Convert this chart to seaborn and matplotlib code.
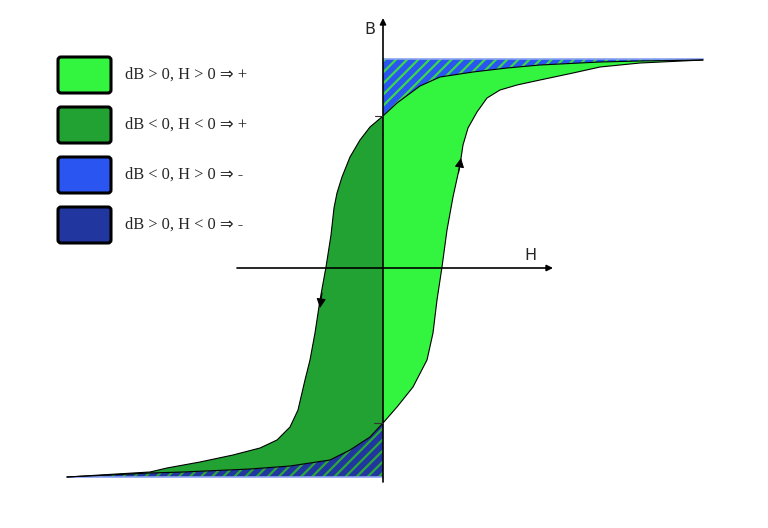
import numpy as np
import matplotlib
matplotlib.use('Agg')
import matplotlib.pyplot as plt
import seaborn as sns
from matplotlib.patches import FancyBboxPatch

# hysteresis loop (arbitrary units)
# descending branch (dB < 0): positive saturation -> negative saturation
desc_h = np.array([3.20, 2.57, 2.17, 1.57, 1.24, 0.90, 0.57, 0.37, 0.14, 0.00, -0.13,
                   -0.23, -0.33, -0.41, -0.46, -0.49, -0.52, -0.57, -0.63, -0.68, -0.73,
                   -0.78, -0.85, -0.93, -1.06, -1.23, -1.50, -1.83, -2.16, -2.33, -3.16])
desc_b = np.array([2.08, 2.07, 2.06, 2.03, 2.00, 1.96, 1.91, 1.82, 1.65, 1.52, 1.41,
                   1.28, 1.11, 0.91, 0.75, 0.60, 0.33, 0.01, -0.32, -0.65, -0.92,
                   -1.12, -1.42, -1.59, -1.72, -1.80, -1.87, -1.94, -2.00, -2.04, -2.09])
# ascending branch (dB > 0): negative saturation -> positive saturation
asc_h = np.array([-3.16, -2.33, -2.00, -1.33, -0.93, -0.53, -0.33, -0.13, 0.00, 0.14,
                  0.30, 0.44, 0.50, 0.54, 0.59, 0.64, 0.70, 0.77, 0.80, 0.85, 0.94,
                  1.04, 1.17, 1.34, 1.57, 1.90, 2.17, 2.57, 3.20])
asc_b = np.array([-2.09, -2.05, -2.04, -2.01, -1.98, -1.92, -1.82, -1.69, -1.55, -1.39,
                  -1.19, -0.92, -0.65, -0.32, 0.01, 0.38, 0.71, 1.03, 1.23, 1.40, 1.56,
                  1.70, 1.78, 1.83, 1.88, 1.95, 2.01, 2.05, 2.08])
b_sat = 2.09

legend_labels = ['dB > 0, H > 0 ⇒ +', 'dB < 0, H < 0 ⇒ +',
                 'dB < 0, H > 0 ⇒ -', 'dB > 0, H < 0 ⇒ -']
legend_colors = ['#33f540', '#22a232', '#2b55f0', '#2236a0']

sns.set_style('white')
plt.rcParams['hatch.linewidth'] = 1.6

fig = plt.figure(figsize=(7.68, 5.28), dpi=100)
ax = fig.add_axes([0, 0, 1, 1])
ax.set_xlim(-3.83, 3.85)
ax.set_ylim(-2.60, 2.68)
ax.set_axis_off()

up_pos = desc_h >= 0
up_neg = desc_h <= 0
lo_pos = asc_h >= 0
lo_neg = asc_h <= 0

# inside of the loop
ax.fill(np.concatenate([desc_h[up_pos], asc_h[lo_pos]]),
        np.concatenate([desc_b[up_pos], asc_b[lo_pos]]),
        color=legend_colors[0], lw=0, zorder=1)
ax.fill(np.concatenate([desc_h[up_neg], asc_h[lo_neg]]),
        np.concatenate([desc_b[up_neg], asc_b[lo_neg]]),
        color=legend_colors[1], lw=0, zorder=1)

# hatched parts outside the loop
ax.fill_between(desc_h[up_pos], desc_b[up_pos], b_sat, facecolor=legend_colors[2],
                edgecolor='#3ad84a', hatch='///', lw=0, zorder=1)
ax.fill_between(asc_h[lo_neg], -b_sat, asc_b[lo_neg], facecolor=legend_colors[3],
                edgecolor='#2aa83a', hatch='///', lw=0, zorder=1)
ax.plot([0, desc_h[0]], [b_sat, b_sat], color='#8aa2f2', lw=1.2, zorder=2)
ax.plot([asc_h[0], 0], [-b_sat, -b_sat], color='#8aa2f2', lw=1.2, zorder=2)

# loop outline
sns.lineplot(x=desc_h, y=desc_b, sort=False, estimator=None, color='black', lw=0.8, ax=ax, zorder=3)
sns.lineplot(x=asc_h, y=asc_b, sort=False, estimator=None, color='black', lw=0.8, ax=ax, zorder=3)

# axes with arrows
arr = dict(arrowstyle='-|>', color='black', lw=1.2, mutation_scale=9, shrinkA=0, shrinkB=0)
ax.annotate('', xy=(0, 2.50), xytext=(0, -2.14), arrowprops=arr, zorder=4)
ax.annotate('', xy=(1.70, 0), xytext=(-1.46, 0), arrowprops=arr, zorder=4)
ax.text(-0.13, 2.39, 'B', fontsize=11.5, ha='center', va='center')
ax.text(1.47, 0.12, 'H', fontsize=11.5, ha='center', va='center')

# remanence ticks
ax.plot([-0.08, 0], [1.52, 1.52], color='#333333', lw=0.8, zorder=4)
ax.plot([-0.09, 0], [-1.55, -1.55], color='#333333', lw=0.8, zorder=4)

# direction arrows on the branches
darr = dict(arrowstyle='-|>', color='black', lw=0.8, mutation_scale=14, shrinkA=0, shrinkB=0)
ax.annotate('', xy=(0.78, 1.10), xytext=(0.755, 0.95), arrowprops=darr, zorder=5)
ax.annotate('', xy=(-0.63, -0.40), xytext=(-0.61, -0.25), arrowprops=darr, zorder=5)

# legend
for i, (lab, col) in enumerate(zip(legend_labels, legend_colors)):
    y0 = 1.75 - 0.50 * i
    box = FancyBboxPatch((-3.25, y0), 0.53, 0.36,
                         boxstyle='round,pad=0,rounding_size=0.03',
                         facecolor=col, edgecolor='black', lw=2.2, zorder=5)
    ax.add_patch(box)
    ax.text(-2.58, y0 + 0.18, lab, fontsize=11.8, va='center', ha='left',
            family=['Liberation Serif', 'DejaVu Sans'])

fig.savefig('out.png', dpi=100)
